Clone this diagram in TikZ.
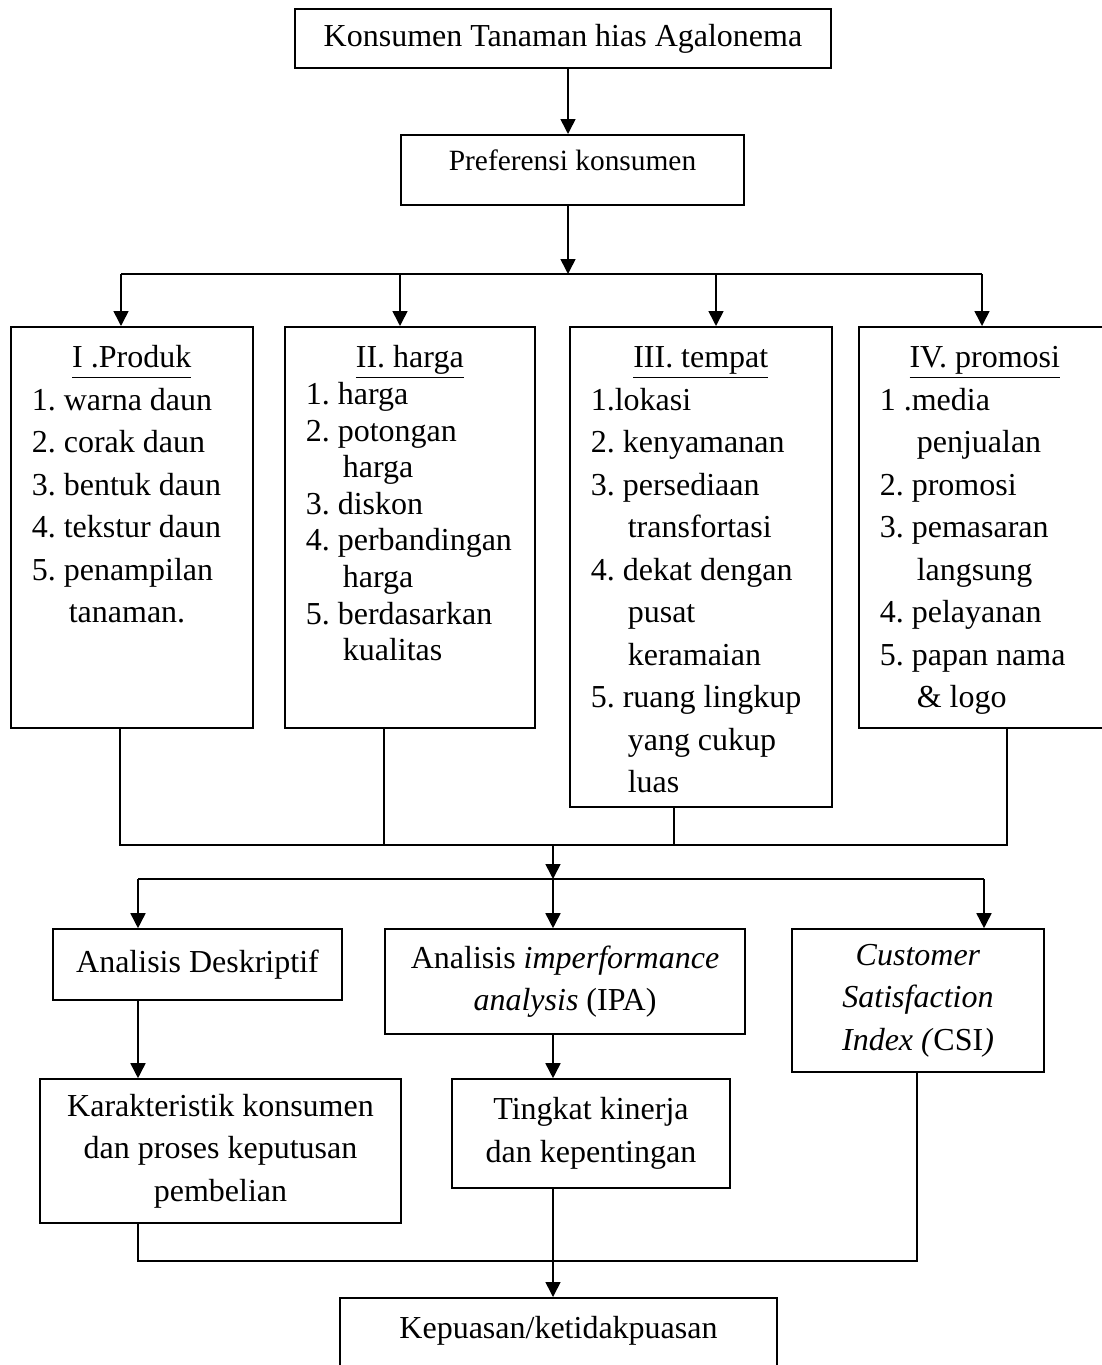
\documentclass[tikz,border=0pt]{standalone}
\usepackage{fontspec}
\setmainfont{Liberation Serif}
\usetikzlibrary{arrows.meta, positioning}
\tikzset{
  % Box styles
  plainbox/.style={rectangle, draw=black, line width=0.8pt, align=center, inner sep=2pt, font=\fontsize{16pt}{21.25pt}\selectfont},
  listbox/.style={rectangle, draw=black, line width=0.8pt, anchor=north west, inner xsep=10.5pt, inner ysep=0pt, font=\fontsize{16pt}{21.25pt}\selectfont},
  % Line styles
  arrow/.style={-{Triangle[length=7.5pt, width=7.5pt]}, line width=0.8pt},
  link/.style={line width=0.8pt}
}

\begin{document}
\begin{tikzpicture}[x=0.5pt, y=-0.5pt]
  \useasboundingbox (0,0) rectangle (1102,1365);
  \clip (0,0) rectangle (1102,1365);

  % Top
  \node[plainbox, minimum width=268pt, minimum height=29.5pt] (konsumen) at (563,38.5) {Konsumen Tanaman hias Agalonema};
  \node[plainbox, anchor=north, minimum width=171.5pt, inner ysep=0pt, text height=18pt, text depth=17pt, font=\fontsize{14.7pt}{18pt}\selectfont] (preferensi) at (572.5,134) {Preferensi konsumen};

  \coordinate (split1) at (568,274);
  \draw[arrow] (konsumen.south -| split1) -- (preferensi.north -| split1);
  \draw[arrow] (preferensi.south -| split1) -- (split1);

  % Marketing mix
  \node[listbox] (produk) at (10,326) {\parbox[t][200.5pt][t]{100pt}{%
    {\centering\rule{0pt}{20.5pt}\underline{I .Produk\vphantom{g}}\par}
    \raggedright
    1.~warna daun\\
    2.~corak daun\\
    3.~bentuk daun\\
    4.~tekstur daun\\
    5.~penampilan\\
    \hspace*{18.5pt}tanaman.}};

  \node[listbox, font=\fontsize{16pt}{18.3pt}\selectfont] (harga) at (284,326) {\parbox[t][200.5pt][t]{104pt}{%
    {\centering\rule{0pt}{20.5pt}\underline{II. harga}\par}
    \raggedright
    1.~harga\\
    2.~potongan\\
    \hspace*{18.5pt}harga\\
    3.~diskon\\
    4.~perbandingan\\
    \hspace*{18.5pt}harga\\
    5.~berdasarkan\\
    \hspace*{18.5pt}kualitas}};

  \node[listbox] (tempat) at (569,326) {\parbox[t][240pt][t]{110pt}{%
    {\centering\rule{0pt}{20.5pt}\underline{III. tempat}\par}
    \raggedright
    1.lokasi\\
    2.~kenyamanan\\
    3.~persediaan\\
    \hspace*{18.5pt}transfortasi\\
    4.~dekat dengan\\
    \hspace*{18.5pt}pusat\\
    \hspace*{18.5pt}keramaian\\
    5.~ruang lingkup\\
    \hspace*{18.5pt}yang cukup\\
    \hspace*{18.5pt}luas}};

  \node[listbox] (promosi) at (858,326) {\parbox[t][200.5pt][t]{105pt}{%
    {\centering\rule{0pt}{20.5pt}\underline{IV. promosi}\par}
    \raggedright
    1 .media\\
    \hspace*{18.5pt}penjualan\\
    2.~promosi\\
    3.~pemasaran\\
    \hspace*{18.5pt}langsung\\
    4.~pelayanan\\
    5.~papan nama\\
    \hspace*{18.5pt}\& logo}};

  \coordinate (s1a) at (121,274);
  \coordinate (s1b) at (400,274);
  \coordinate (s1c) at (716,274);
  \coordinate (s1d) at (982,274);
  \draw[link] (s1a) -- (s1d);
  \foreach \c/\n in {s1a/produk, s1b/harga, s1c/tempat, s1d/promosi}
    \draw[arrow] (\c) -- (\c |- \n.north);

  % Merge into the analyses
  \coordinate (m1a) at (120,845);
  \coordinate (m1b) at (384,845);
  \coordinate (m1c) at (674,845);
  \coordinate (m1d) at (1007,845);
  \coordinate (merge1) at (553,845);
  \draw[link] (produk.south -| m1a) -- (m1a) -- (m1d) -- (promosi.south -| m1d);
  \draw[link] (harga.south -| m1b) -- (m1b);
  \draw[link] (tempat.south -| m1c) -- (m1c);

  \coordinate (split2) at (553,879);
  \coordinate (s2a) at (138,879);
  \coordinate (s2c) at (984,879);
  \draw[arrow] (merge1) -- (split2);
  \draw[link] (s2a) -- (s2c);

  % Analyses
  \node[plainbox, minimum width=144.5pt, minimum height=35.5pt] (deskriptif) at (197.5,964.5) {Analisis Deskriptif};
  \node[plainbox, minimum width=180pt, minimum height=52.5pt] (ipa) at (565,981.5) {Analisis \textit{imperformance}\\\textit{analysis} (IPA)};
  \node[plainbox, minimum width=126pt, minimum height=71.5pt] (csi) at (918,1000.5) {\textit{Customer}\\\textit{Satisfaction}\\\textit{Index (}CSI\textit{)}};

  \foreach \c/\n in {s2a/deskriptif, split2/ipa, s2c/csi}
    \draw[arrow] (\c) -- (\c |- \n.north);

  % Results
  \node[plainbox, minimum width=180.5pt, minimum height=72pt] (karakteristik) at (220.5,1151) {Karakteristik konsumen\\dan proses keputusan\\pembelian};
  \node[plainbox, minimum width=139pt, minimum height=54.5pt] (kinerja) at (591,1133.5) {Tingkat kinerja\\dan kepentingan};
  \node[plainbox, anchor=north, minimum width=218.5pt, inner ysep=0pt, text height=20.5pt, text depth=40pt] (kepuasan) at (558.5,1297) {Kepuasan/ketidakpuasan};

  \draw[arrow] (s2a |- deskriptif.south) -- (s2a |- karakteristik.north);
  \draw[arrow] (split2 |- ipa.south) -- (split2 |- kinerja.north);

  \coordinate (m3a) at (138,1261);
  \coordinate (m3c) at (917,1261);
  \draw[link] (karakteristik.south -| m3a) -- (m3a) -- (m3c) -- (csi.south -| m3c);
  \draw[arrow] (kinerja.south -| split2) -- (kepuasan.north -| split2);
\end{tikzpicture}
\end{document}
